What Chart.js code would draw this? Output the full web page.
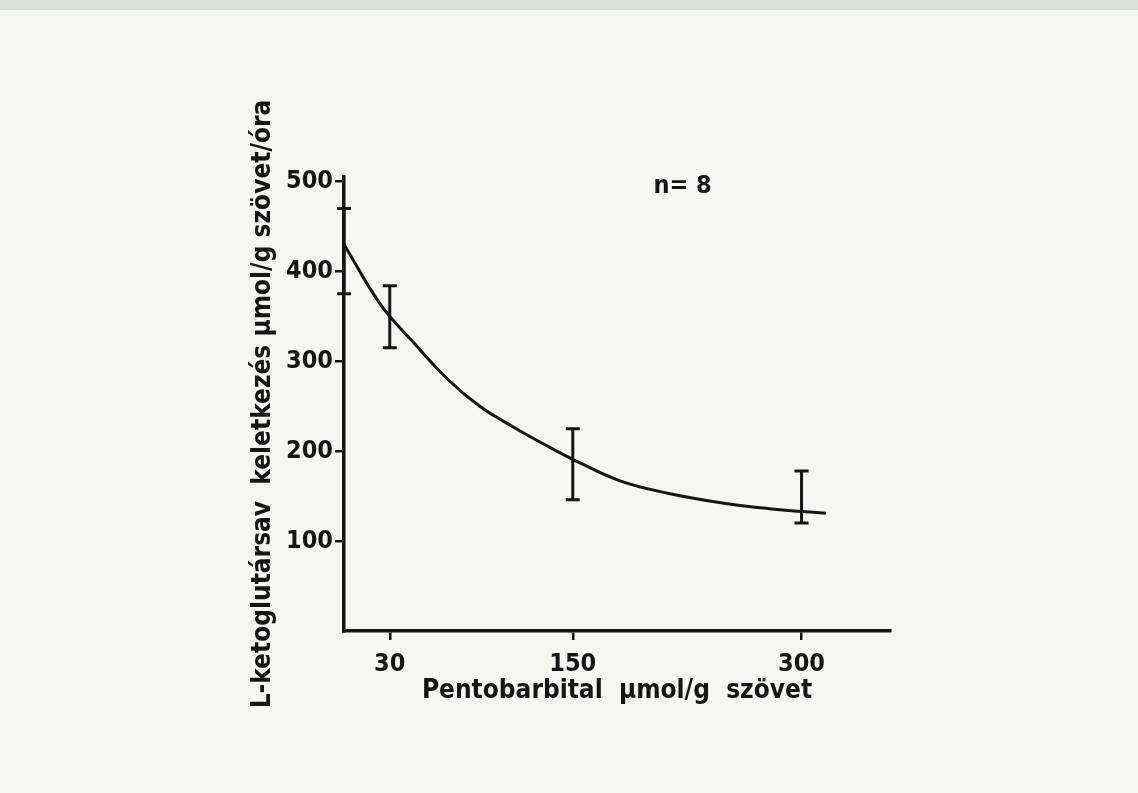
<!DOCTYPE html>
<html>
<head>
<meta charset="utf-8">
<script src="https://cdn.jsdelivr.net/npm/chart.js@4.4.1/dist/chart.umd.min.js"></script>
<style>
  html, body { margin: 0; padding: 0; background: #f6f6f3; }
  #strip { position: absolute; left: 0; top: 0; width: 1138px; height: 10px; background: #dcdfd9; }
  #wrap { width: 1138px; height: 793px; }
</style>
</head>
<body>
<div id="strip"></div>
<div id="wrap"><canvas id="chart" width="1138" height="793"></canvas></div>
<script>
// curve (µmol/g vs. µmol/g/óra)
const curveX = [0, 24, 45, 68, 89, 111, 133, 150, 181, 213, 246, 279, 300, 316];
const curveY = [430, 363, 322, 280, 250, 227, 206, 191, 167, 153, 143, 136, 133, 131];

// error bars
const errX = [0, 30, 150, 300];
const errLow = [375, 315, 146, 120];
const errHigh = [470, 384, 225, 178];

const xTicks = [30, 150, 300];
const yTicks = [100, 200, 300, 400, 500];

const ink = '#151515';
const font = "'DejaVu Sans Condensed', 'DejaVu Sans', sans-serif";

const errorBars = {
    id: 'errorBars',
    afterDatasetsDraw(chart) {
        const { ctx, scales: { x, y } } = chart;
        ctx.save();
        ctx.strokeStyle = ink;
        ctx.lineWidth = 3;
        ctx.lineCap = 'butt';
        errX.forEach((v, i) => {
            const px = x.getPixelForValue(v);
            const lo = y.getPixelForValue(errLow[i]);
            const hi = y.getPixelForValue(errHigh[i]);
            ctx.beginPath();
            ctx.moveTo(px, lo); ctx.lineTo(px, hi);
            ctx.moveTo(px - 7, lo); ctx.lineTo(px + 7, lo);
            ctx.moveTo(px - 7, hi); ctx.lineTo(px + 7, hi);
            ctx.stroke();
        });
        // n label
        ctx.fillStyle = ink;
        ctx.font = "bold 25px " + font;
        ctx.textAlign = 'center';
        ctx.textBaseline = 'middle';
        ctx.fillText('n= 8', x.getPixelForValue(222), y.getPixelForValue(494));
        ctx.restore();
    }
};

new Chart(document.getElementById('chart'), {
    type: 'line',
    data: {
        datasets: [{
            data: curveX.map((v, i) => ({ x: v, y: curveY[i] })),
            borderColor: ink,
            borderWidth: 3,
            pointRadius: 0,
            tension: 0.4,
            fill: false
        }]
    },
    options: {
        responsive: false,
        animation: false,
        layout: { padding: { left: 0, top: 177, right: 248, bottom: 0 } },
        plugins: { legend: { display: false }, tooltip: { enabled: false } },
        scales: {
            x: {
                type: 'linear',
                min: 0,
                max: 358,
                afterBuildTicks: s => { s.ticks = xTicks.map(v => ({ value: v })); },
                afterFit: s => { s.height = 162; },
                border: { display: true, color: ink, width: 3.5 },
                grid: { drawOnChartArea: false, drawTicks: true, tickLength: 9, color: ink, lineWidth: 2.5 },
                ticks: { color: ink, padding: 9, font: { family: font, size: 25, weight: 'bold' } },
                title: {
                    display: true,
                    text: 'Pentobarbital  µmol/g  szövet',
                    color: ink,
                    font: { family: font, size: 26, weight: 'bold' },
                    padding: { top: 0, bottom: 86 }
                }
            },
            y: {
                min: 0,
                max: 505,
                afterBuildTicks: s => { s.ticks = yTicks.map(v => ({ value: v })); },
                afterFit: s => { s.width = 344; },
                border: { display: true, color: ink, width: 3.5 },
                grid: { drawOnChartArea: false, drawTicks: true, tickLength: 9, color: ink, lineWidth: 2.5 },
                ticks: { color: ink, padding: 2, font: { family: font, size: 25, weight: 'bold' } },
                title: {
                    display: true,
                    text: 'L-ketoglutársav  keletkezés µmol/g szövet/óra',
                    color: ink,
                    font: { family: font, size: 26, weight: 'bold' },
                    padding: { top: 248, bottom: 0 }
                }
            }
        }
    },
    plugins: [errorBars]
});
</script>
</body>
</html>
